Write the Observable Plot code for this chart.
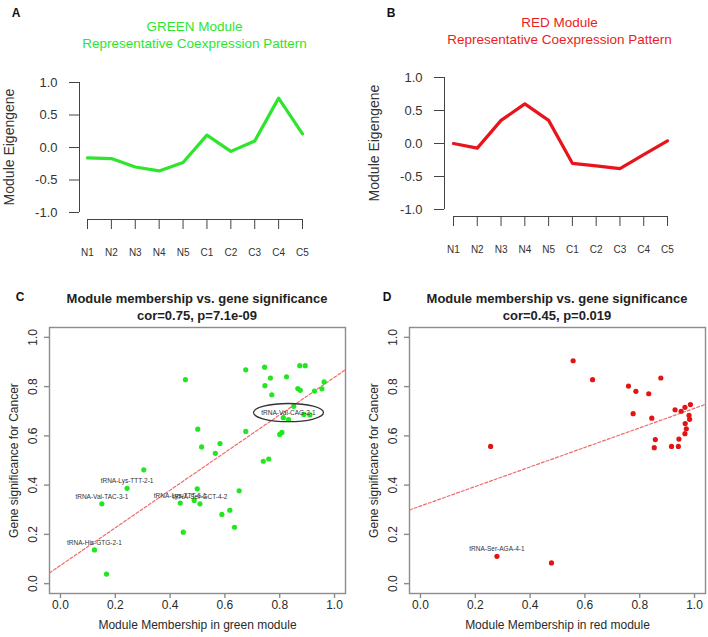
<!DOCTYPE html>
<html><head><meta charset="utf-8">
<script src="https://cdn.jsdelivr.net/npm/d3@7"></script>
<script src="https://cdn.jsdelivr.net/npm/@observablehq/plot@0.6"></script>
<style>
body{margin:0;background:#fff;font-family:"Liberation Sans",Arial,sans-serif;}
#wrap{position:relative;width:708px;height:637px;overflow:hidden;background:#fff;}
.abs{position:absolute;white-space:nowrap;transform:translate(-50%,-50%);line-height:1;}
</style></head><body><div id="wrap"></div>
<script>
// ---------- data ----------
const samples = ["N1","N2","N3","N4","N5","C1","C2","C3","C4","C5"];
const greenEigengene = [-0.16,-0.17,-0.30,-0.36,-0.23,0.19,-0.06,0.10,0.76,0.21];
const redEigengene   = [0.00,-0.07,0.35,0.60,0.35,-0.30,-0.34,-0.38,-0.17,0.04];
const eigenTicks = [-1,-0.5,0,0.5,1];
const mmTicks = [0,0.2,0.4,0.6,0.8,1];

const greenMM = [0.456,0.676,0.745,0.766,0.825,0.873,0.893,0.746,0.771,0.866,0.875,0.927,0.954,0.962,
  0.851,0.813,0.832,0.888,0.910,0.808,0.800,0.676,0.501,0.515,0.582,0.565,0.740,0.760,
  0.304,0.243,0.151,0.124,0.168,0.448,0.437,0.499,0.488,0.509,0.652,0.589,0.618,0.635];
const greenGS = [0.828,0.868,0.879,0.835,0.840,0.885,0.885,0.804,0.767,0.792,0.785,0.782,0.791,0.819,
  0.720,0.674,0.666,0.687,0.685,0.614,0.606,0.618,0.627,0.555,0.569,0.529,0.497,0.506,
  0.462,0.387,0.324,0.137,0.039,0.209,0.327,0.385,0.338,0.324,0.377,0.281,0.298,0.229];
const redMM = [0.557,0.628,0.759,0.786,0.833,0.877,0.776,0.844,0.929,0.951,0.965,0.985,0.980,0.982,
  0.966,0.970,0.965,0.943,0.857,0.853,0.916,0.941,0.256,0.279,0.478];
const redGS = [0.905,0.828,0.802,0.781,0.771,0.835,0.690,0.672,0.706,0.700,0.716,0.727,0.683,0.667,
  0.650,0.629,0.609,0.587,0.585,0.552,0.557,0.557,0.557,0.111,0.084];

const greenLabelText = ["tRNA-Val-CAG-2-1","tRNA-Lys-TTT-2-1","tRNA-Val-TAC-3-1","tRNA-His-GTG-2-1","tRNA-Lys-TTT-6-1","tRNA-Ser-GCT-4-2"];
const greenLabelMM = [0.832,0.243,0.151,0.124,0.437,0.509];
const greenLabelGS = [0.666,0.387,0.324,0.137,0.327,0.324];
const greenCircled = ["tRNA-Val-CAG-2-1"];
const redLabelText = ["tRNA-Ser-AGA-4-1"];
const redLabelMM = [0.279];
const redLabelGS = [0.111];

const greenFit = [0.074, 0.764]; // intercept, slope
const redFit = [0.315, 0.397];
const mmDomain = [-0.04, 1.04];

const titlesA = ["GREEN Module","Representative Coexpression Pattern"];
const titlesB = ["RED Module","Representative Coexpression Pattern"];
const titlesC = ["Module membership vs. gene significance","cor=0.75, p=7.1e-09"];
const titlesD = ["Module membership vs. gene significance","cor=0.45, p=0.019"];

// ---------- helpers ----------
const wrap = document.getElementById("wrap");
const FONT = "Liberation Sans, Arial, Helvetica, sans-serif";
function place(node, left, top){ node.style.position="absolute"; node.style.left=left+"px"; node.style.top=top+"px"; wrap.appendChild(node); }
function label(text, x, y, style){ const d=document.createElement("div"); d.className="abs"; d.textContent=text; d.style.left=x+"px"; d.style.top=y+"px"; Object.assign(d.style, style); wrap.appendChild(d); }

const ellipseSymbol = { draw(ctx, size){ const rx=Math.sqrt(size/Math.PI), ry=rx*0.26, k=0.5523;
  ctx.moveTo(rx,0); ctx.bezierCurveTo(rx,k*ry,k*rx,ry,0,ry); ctx.bezierCurveTo(-k*rx,ry,-rx,k*ry,-rx,0);
  ctx.bezierCurveTo(-rx,-k*ry,-k*rx,-ry,0,-ry); ctx.bezierCurveTo(k*rx,-ry,rx,-k*ry,rx,0); ctx.closePath(); } };

// Eigengene panels: kept minimal (no style option, no rotated text inside the SVG)
function eigenPanel(values, color, c){
  const rows = samples.map((s,i)=>({sample:s, value:values[i]}));
  const first = samples[0], last = samples[samples.length-1];
  const yMin = eigenTicks[0], yMax = eigenTicks[eigenTicks.length-1];
  return Plot.plot({
    width:354, height:280, marginLeft:c.ml, marginTop:c.mt, marginBottom:c.mb, marginRight:44,
    x:{type:"point", domain:samples, range:c.range, padding:0, round:false},
    y:{domain:[yMin,yMax]},
    marks:[
      Plot.ruleX([first], {y1:[yMin], y2:[yMax], dx:c.adx, stroke:"#444"}),
      Plot.ruleY([yMin], {x1:[first], x2:[last], dy:7, stroke:"#444"}),
      Plot.axisY({ticks:eigenTicks, tickFormat:d=>d.toFixed(1), tickSize:10, tickPadding:12, fontSize:13, fontFamily:FONT, stroke:"#444", fill:"#333", label:null}),
      Plot.axisX({tickSize:10, dy:7, tickPadding:19, fontSize:10, fontFamily:FONT, stroke:"#444", fill:"#333", label:null}),
      Plot.line(rows, {x:"sample", y:"value", stroke:color, strokeWidth:3.2})
    ]
  });
}

function scatterPanel(mm, gs, color, fit, labs, circled, xlabel, c){
  const pts = mm.map((m,i)=>({mm:m, gs:gs[i]}));
  const lab = labs.text.map((t,i)=>({t, mm:labs.mm[i], gs:labs.gs[i]}));
  const circ = lab.filter(d=>circled.includes(d.t));
  return Plot.plot({
    width:354, height:352, marginLeft:c.ml, marginRight:c.mr, marginTop:42, marginBottom:44,
    style:{fontFamily:FONT},
    x:{domain:mmDomain}, y:{domain:mmDomain},
    marks:[
      Plot.frame({stroke:"#8c8c8c", strokeWidth:1.4}),
      Plot.axisX({ticks:mmTicks, tickFormat:d=>d.toFixed(1), tickSize:5, tickPadding:2, fontSize:12, stroke:"#8c8c8c", strokeWidth:1.4, fill:"#2a2a2a", label:null}),
      Plot.axisY({ticks:mmTicks, tickSize:5, stroke:"#8c8c8c", strokeWidth:1.4, fill:"none", label:null}),
      Plot.text(mmTicks, {y:d=>d, text:d=>d.toFixed(1), frameAnchor:"left", textAnchor:"middle", rotate:-90, dx:-16, fontSize:12, fill:"#2a2a2a"}),
      Plot.line(mmDomain, {x:d=>d, y:d=>fit[0]+fit[1]*d, stroke:"#f06a6a", strokeWidth:1.2, strokeDasharray:"3,2"}),
      Plot.dot(pts, {x:"mm", y:"gs", r:2.6, fill:color}),
      Plot.text(lab, {x:"mm", y:"gs", text:"t", dy:-7, fontSize:6.5, fill:"#333333"}),
      Plot.dot(circ, {x:"mm", y:"gs", dy:-7, r:35, symbol:ellipseSymbol, fill:"none", stroke:"#333333", strokeWidth:1.3}),
      Plot.text([xlabel], {text:d=>d, frameAnchor:"bottom", dy:35, fontSize:12, fill:"#2a2a2a"}),
      Plot.text(["Gene significance for Cancer"], {text:d=>d, frameAnchor:"left", textAnchor:"middle", rotate:-90, dx:-35, fontSize:12, fill:"#2a2a2a"})
    ]
  });
}

// ---------- panels ----------
place(eigenPanel(greenEigengene, "#2ee52e", {ml:79, mt:82, mb:68, range:[87,302], adx:-8}), 0, 0);
place(eigenPanel(redEigengene, "#e8141c", {ml:90, mt:77, mb:71, range:[99,313], adx:-9}), 354, 0);
place(scatterPanel(greenMM, greenGS, "#22e622", greenFit,
  {text:greenLabelText, mm:greenLabelMM, gs:greenLabelGS}, greenCircled,
  "Module Membership in green module", {ml:49, mr:9}), 0, 285);
place(scatterPanel(redMM, redGS, "#e41414", redFit,
  {text:redLabelText, mm:redLabelMM, gs:redLabelGS}, [],
  "Module Membership in red module", {ml:55, mr:3}), 354, 285);

// ---------- titles, axis titles of A/B, panel letters ----------
const yTitleStyle = {fontSize:"14px", color:"#333", transform:"translate(-50%,-50%) rotate(-90deg)"};
label("Module Eigengene", 9, 147, yTitleStyle);
label("Module Eigengene", 374, 143, yTitleStyle);
const letterStyle = {fontWeight:"bold", fontSize:"12px", color:"#111"};
label("A", 16, 13, letterStyle);
label("B", 391, 13, letterStyle);
label("C", 20, 297, letterStyle);
label("D", 387, 297, letterStyle);
label(titlesA[0], 194.5, 27, {fontSize:"13.5px", color:"#2ee52e"});
label(titlesA[1], 194.5, 44, {fontSize:"13.5px", color:"#2ee52e"});
label(titlesB[0], 559.5, 23, {fontSize:"13.5px", color:"#ec1c22"});
label(titlesB[1], 559.5, 40, {fontSize:"13.5px", color:"#ec1c22"});
label(titlesC[0], 197, 298, {fontSize:"13px", fontWeight:"bold", color:"#222"});
label(titlesC[1], 197, 315, {fontSize:"13px", fontWeight:"bold", color:"#222"});
label(titlesD[0], 557, 298, {fontSize:"13px", fontWeight:"bold", color:"#222"});
label(titlesD[1], 557, 315, {fontSize:"13px", fontWeight:"bold", color:"#222"});
</script></body></html>
